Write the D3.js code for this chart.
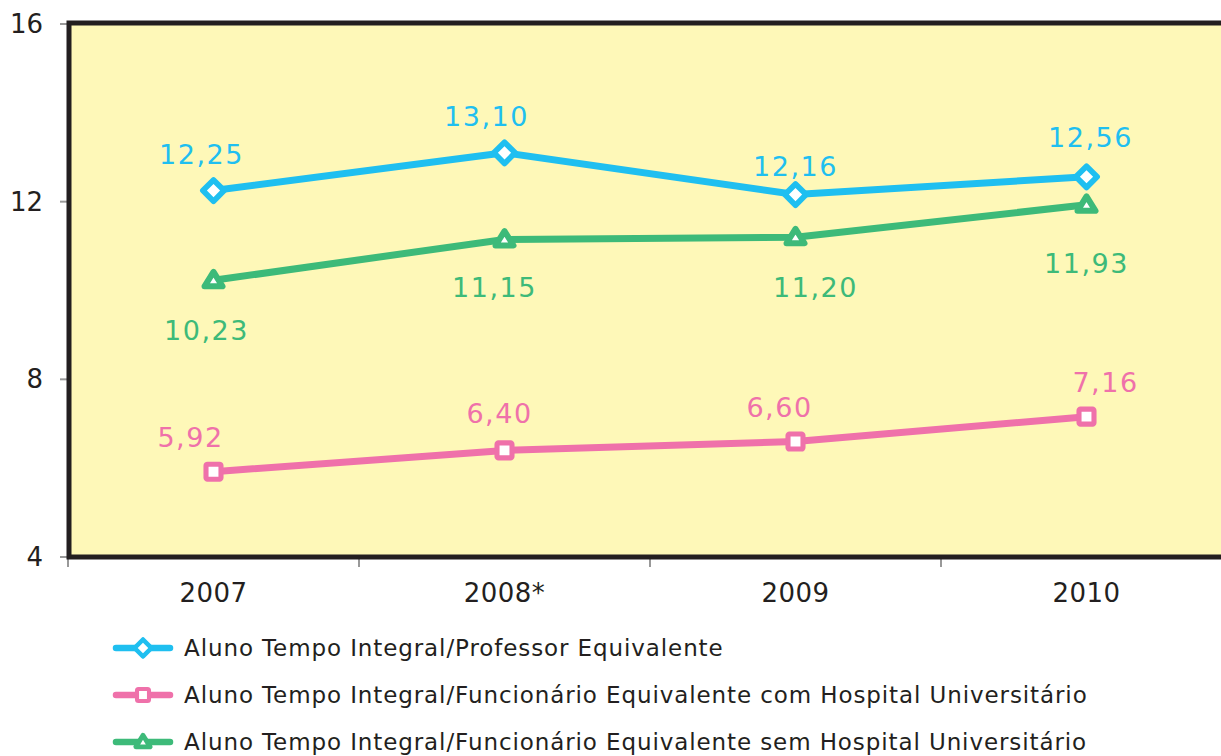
<!DOCTYPE html>
<html>
<head>
<meta charset="utf-8">
<script src="https://cdn.jsdelivr.net/npm/d3@7"></script>
<style>
  body { margin: 0; background: #fff; }
  text { font-family: "DejaVu Sans", Verdana, sans-serif; }
</style>
</head>
<body>
<div id="chart"></div>
<script>
// categories and series
var years = ["2007", "2008*", "2009", "2010"];
var professor = [12.25, 13.10, 12.16, 12.56];
var comHU = [5.92, 6.40, 6.60, 7.16];
var semHU = [10.23, 11.15, 11.20, 11.93];
var yTicks = [4, 8, 12, 16];
var seriesNames = [
    "Aluno Tempo Integral/Professor Equivalente",
    "Aluno Tempo Integral/Funcionário Equivalente com Hospital Universitário",
    "Aluno Tempo Integral/Funcionário Equivalente sem Hospital Universitário"
];

// label nudges (layout only, px relative to marker)
var profLabelDx = [-12, -18, 0, 4], profLabelDy = [-27, -27, -19, -30];
var comLabelDx = [-23, -5, -16, 19], comLabelDy = [-25, -27, -25, -25];
var semLabelDx = [-7, -10, 20, 0], semLabelDy = [60, 58, 60, 68];

var W = 1221, H = 756;
var plotLeft = 70, plotTop = 24, plotBottom = 557;

var series = [
    {name: seriesNames[0], values: professor, color: "#1fbff0", shape: "diamond", dx: profLabelDx, dy: profLabelDy},
    {name: seriesNames[1], values: comHU, color: "#ef71aa", shape: "square", dx: comLabelDx, dy: comLabelDy},
    {name: seriesNames[2], values: semHU, color: "#3dba79", shape: "triangle", dx: semLabelDx, dy: semLabelDy}
];

var svg = d3.select("#chart").append("svg")
    .attr("width", W).attr("height", H);

var x = d3.scaleBand().domain(years).range([plotLeft - 2, plotLeft - 2 + 4 * 291]);
var y = d3.scaleLinear().domain([4, 16]).range([plotBottom, plotTop]);
var cx = function(d) { return x(d) + x.bandwidth() / 2; };

// plot background
svg.append("rect")
    .attr("x", plotLeft).attr("y", plotTop)
    .attr("width", W - plotLeft + 10).attr("height", plotBottom - plotTop)
    .attr("fill", "#fef8b8");

// y ticks (gray) and labels
svg.selectAll(".ytick").data(yTicks).enter().append("line")
    .attr("x1", plotLeft - 10).attr("x2", plotLeft)
    .attr("y1", function(d) { return y(d); })
    .attr("y2", function(d) { return y(d); })
    .attr("stroke", "#999").attr("stroke-width", 2);
svg.selectAll(".ylab").data(yTicks).enter().append("text")
    .attr("x", 43).attr("y", function(d) { return y(d) + 9; })
    .attr("text-anchor", "end")
    .attr("font-size", 26).attr("fill", "#231f20")
    .text(function(d) { return d; });

// x ticks at band edges
var xEdges = years.map(function(d) { return x(d); });
svg.selectAll(".xtick").data(xEdges).enter().append("line")
    .attr("x1", function(d) { return d; }).attr("x2", function(d) { return d; })
    .attr("y1", plotBottom).attr("y2", plotBottom + 10)
    .attr("stroke", "#999").attr("stroke-width", 2);
svg.selectAll(".xlab").data(years).enter().append("text")
    .attr("x", cx).attr("y", plotBottom + 45)
    .attr("text-anchor", "middle")
    .attr("font-size", 26).attr("fill", "#231f20")
    .attr("letter-spacing", 0.5)
    .text(function(d) { return d; });

// axis frame (dark)
svg.append("path")
    .attr("d", "M" + (W + 10) + "," + (plotTop - 1) + "H" + (plotLeft - 1) + "V" + plotBottom + "H" + (W + 10))
    .attr("fill", "none").attr("stroke", "#231f20").attr("stroke-width", 5);

// marker shapes
function marker(g, shape, color, s) {
    if (shape === "diamond") {
        g.append("path").attr("d", d3.symbol().type(d3.symbolSquare).size(s * s)())
            .attr("transform", "rotate(45)")
            .attr("fill", "#fff").attr("stroke", color).attr("stroke-width", s * 0.38).attr("stroke-linejoin", "round");
    } else if (shape === "square") {
        g.append("rect").attr("x", -s / 2).attr("y", -s / 2).attr("width", s).attr("height", s)
            .attr("rx", 1.5).attr("fill", "#fff").attr("stroke", color).attr("stroke-width", s * 0.34);
    } else {
        var h = s * 0.9;
        g.append("path").attr("d", "M0," + (-h * 0.62) + "L" + (s * 0.6) + "," + (h * 0.45) + "L" + (-s * 0.6) + "," + (h * 0.45) + "Z")
            .attr("fill", "#fff").attr("stroke", color).attr("stroke-width", s * 0.4).attr("stroke-linejoin", "round");
    }
}

var line = d3.line().x(function(d, i) { return cx(years[i]); }).y(function(d) { return y(d); });

series.forEach(function(s) {
    svg.append("path").datum(s.values)
        .attr("d", line).attr("fill", "none")
        .attr("stroke", s.color).attr("stroke-width", 7).attr("stroke-linejoin", "round");
    s.values.forEach(function(v, i) {
        var g = svg.append("g").attr("transform", "translate(" + cx(years[i]) + "," + y(v) + ")");
        marker(g, s.shape, s.color, 15);
        svg.append("text")
            .attr("x", cx(years[i]) + s.dx[i])
            .attr("y", y(v) + s.dy[i])
            .attr("text-anchor", "middle")
            .attr("font-size", 27).attr("fill", s.color)
            .attr("letter-spacing", 1.5)
            .text(v.toFixed(2).replace(".", ","));
    });
});

// legend
var legendY = [648, 695, 742];
series.forEach(function(s, i) {
    var ly = legendY[i];
    svg.append("line").attr("x1", 116).attr("x2", 170).attr("y1", ly).attr("y2", ly)
        .attr("stroke", s.color).attr("stroke-width", 6.5).attr("stroke-linecap", "round");
    var g = svg.append("g").attr("transform", "translate(143," + ly + ")");
    marker(g, s.shape, s.color, 12);
    svg.append("text").attr("x", 184).attr("y", ly + 8)
        .attr("font-size", 23).attr("fill", "#231f20")
        .attr("letter-spacing", 0.9)
        .text(s.name);
});
</script>
</body>
</html>
